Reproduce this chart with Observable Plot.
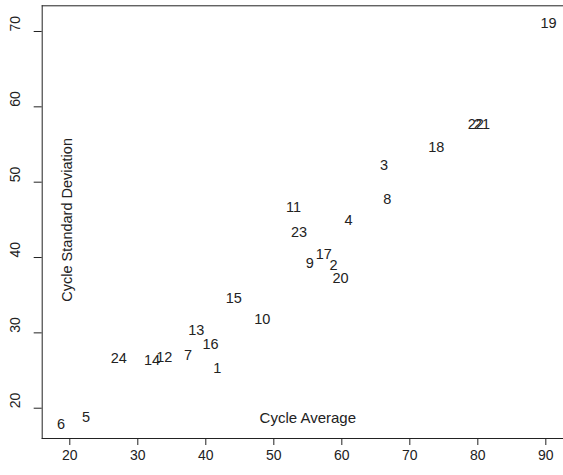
<!DOCTYPE html>
<html>
<head>
<meta charset="utf-8">
<script src="https://cdn.jsdelivr.net/npm/d3@7"></script>
<script src="https://cdn.jsdelivr.net/npm/@observablehq/plot@0.6"></script>
<style>
  html, body { margin: 0; padding: 0; background: #fff; }
  svg { display: block; }
</style>
</head>
<body>
<div id="chart"></div>
<script>
const ids = ["1","2","3","4","5","6","7","8","9","10","11","12","13","14","15","16","17","18","19","20","21","22","23","24"];
const cycleAverage = [41.7, 58.8, 66.2, 61.0, 22.4, 18.7, 37.4, 66.7, 55.3, 48.3, 52.9, 33.9, 38.6, 32.1, 44.1, 40.7, 57.35, 73.9, 90.4, 59.8, 80.6, 79.7, 53.7, 27.2];
const cycleSD = [25.25, 38.9, 52.2, 44.95, 18.8, 17.9, 27.0, 47.7, 39.2, 31.8, 46.6, 26.8, 30.36, 26.3, 34.6, 28.5, 40.4, 54.6, 71.06, 37.25, 57.7, 57.7, 43.3, 26.6];
const xTicks = [20, 30, 40, 50, 60, 70, 80, 90];
const yTicks = [20, 30, 40, 50, 60, 70];
const xLabel = "Cycle Average";
const yLabel = "Cycle Standard Deviation";
const xLabelAt = {x: 55, y: 18.7};
const yLabelAt = {x: 19.7, y: 45};

const data = ids.map((id, i) => ({id, avg: cycleAverage[i], sd: cycleSD[i]}));

const font = "'Liberation Sans', Arial, Helvetica, sans-serif";
const ink = "#222";

const chart = Plot.plot({
  width: 563,
  height: 475,
  marginLeft: 41.7,
  marginRight: 0,
  marginTop: 5.3,
  marginBottom: 37,
  style: {fontFamily: font, fontSize: "14px", color: ink, background: "#fff"},
  x: {domain: [15.94, 92.6]},
  y: {domain: [15.98, 73.41]},
  marks: [
    Plot.axisX({ticks: xTicks, tickSize: 7, tickPadding: 5, fontSize: 14, stroke: ink, fill: ink, label: null}),
    Plot.axisY({ticks: yTicks, tickSize: 8, tickFormat: () => "", stroke: ink, label: null}),
    Plot.text(yTicks, {y: d => d, frameAnchor: "left", dx: -27, rotate: -90, text: d => String(d), fontSize: 14, fill: ink}),
    Plot.frame({anchor: "left", stroke: ink}),
    Plot.frame({anchor: "top", stroke: ink}),
    Plot.frame({anchor: "bottom", stroke: ink}),
    Plot.text(data, {x: "avg", y: "sd", text: "id", fontSize: 14.5, fill: ink}),
    Plot.text([xLabelAt], {x: "x", y: "y", text: () => xLabel, fontSize: 15, fill: ink}),
    Plot.text([yLabelAt], {x: "x", y: "y", text: () => yLabel, rotate: -90, fontSize: 14.5, fill: ink})
  ]
});
document.getElementById("chart").appendChild(chart);
</script>
</body>
</html>
